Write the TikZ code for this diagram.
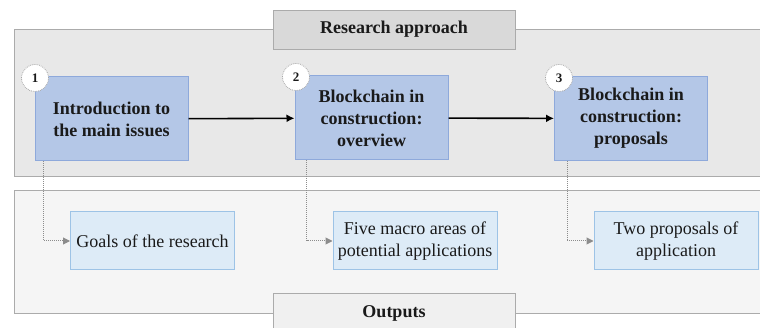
\documentclass[tikz,border=0pt]{standalone}
\usepackage{fontspec}
\setmainfont{Liberation Serif}
\usetikzlibrary{arrows.meta,positioning}
\definecolor{panelA}{HTML}{E8E8E8}
\definecolor{panelB}{HTML}{F5F5F5}
\definecolor{panelLine}{HTML}{ABABAB}
\definecolor{titleFill}{HTML}{D9D9D9}
\definecolor{titleFillB}{HTML}{F0F0F0}
\definecolor{stepFill}{HTML}{B4C7E7}
\definecolor{stepLine}{HTML}{8EA9DB}
\definecolor{outFill}{HTML}{DDEBF7}
\definecolor{outLine}{HTML}{9DC3E6}
\definecolor{ink}{HTML}{1A1A1A}
\definecolor{leadGray}{HTML}{8C8C8C}
\tikzset{
  panel/.style={draw=panelLine, line width=0.8pt},
  stepbox/.style={draw=stepLine, fill=stepFill, line width=1pt,
    minimum width=153pt, minimum height=84pt, align=center,
    font=\fontsize{18}{22}\selectfont\bfseries, text=ink, inner sep=2pt},
  outbox/.style={draw=outLine, fill=outFill, line width=1pt,
    minimum width=164pt, minimum height=58pt, align=center,
    font=\fontsize{18}{21.5}\selectfont, text=ink, inner sep=2pt},
  badge/.style={circle, draw=gray!70, densely dotted, fill=white, line width=0.8pt,
    minimum size=27pt, inner sep=0pt, font=\fontsize{13}{13}\selectfont\bfseries, text=ink},
  flow/.style={-{Latex[length=8pt,width=8pt]}, line width=1.6pt, black},
  leadout/.style={densely dotted, draw=leadGray, line width=1pt,
    -{Triangle[length=7pt,width=7pt,color=leadGray,fill=leadGray]}},
  titlebox/.style={draw=panelLine, line width=0.9pt, font=\fontsize{18}{18}\selectfont\bfseries, text=ink}
}
\begin{document}
\begin{tikzpicture}[x=1pt,y=-1pt]
\clip (0,0) rectangle (760,328);
\fill[white] (0,0) rectangle (760,328);
% background panels
\filldraw[panel, fill=panelA] (14,29) rectangle (775,176);
\filldraw[panel, fill=panelB] (14,190) rectangle (775,313);
\node[titlebox, fill=titleFill, minimum width=242pt, minimum height=39pt] (head) at (394,29.5) {Research approach};
\node[titlebox, fill=titleFillB, minimum width=242pt, minimum height=40pt, anchor=north] (foot) at (394,293) {};
\node[font=\fontsize{18}{18}\selectfont\bfseries, text=ink] (footlabel) at (394,313) {Outputs};
% process steps
\node[stepbox] (s1) at (111.5,119) {Introduction to\\the main issues};
\node[stepbox] (s2) at (371.5,118) {Blockchain in\\construction:\\overview};
\node[stepbox] (s3) at (631,118.5) {Blockchain in\\construction:\\proposals};
\node[badge] (n1) at (35,78) {1};
\node[badge] (n2) at (296,77) {2};
\node[badge] (n3) at (559,78) {3};
\draw[flow] (s1) -- (s2);
\draw[flow] (s2) -- (s3);
% outputs
\node[outbox] (o1) at (152.5,241) {Goals of the research};
\node[outbox] (o2) at (415,241) {Five macro areas of\\potential applications};
\node[outbox] (o3) at (676,241) {Two proposals of\\application};
\draw[leadout] ([xshift=9pt]s1.south west) |- (o1.west);
\draw[leadout] ([xshift=12pt]s2.south west) |- (o2.west);
\draw[leadout] ([xshift=13pt]s3.south west) |- (o3.west);
\end{tikzpicture}
\end{document}
